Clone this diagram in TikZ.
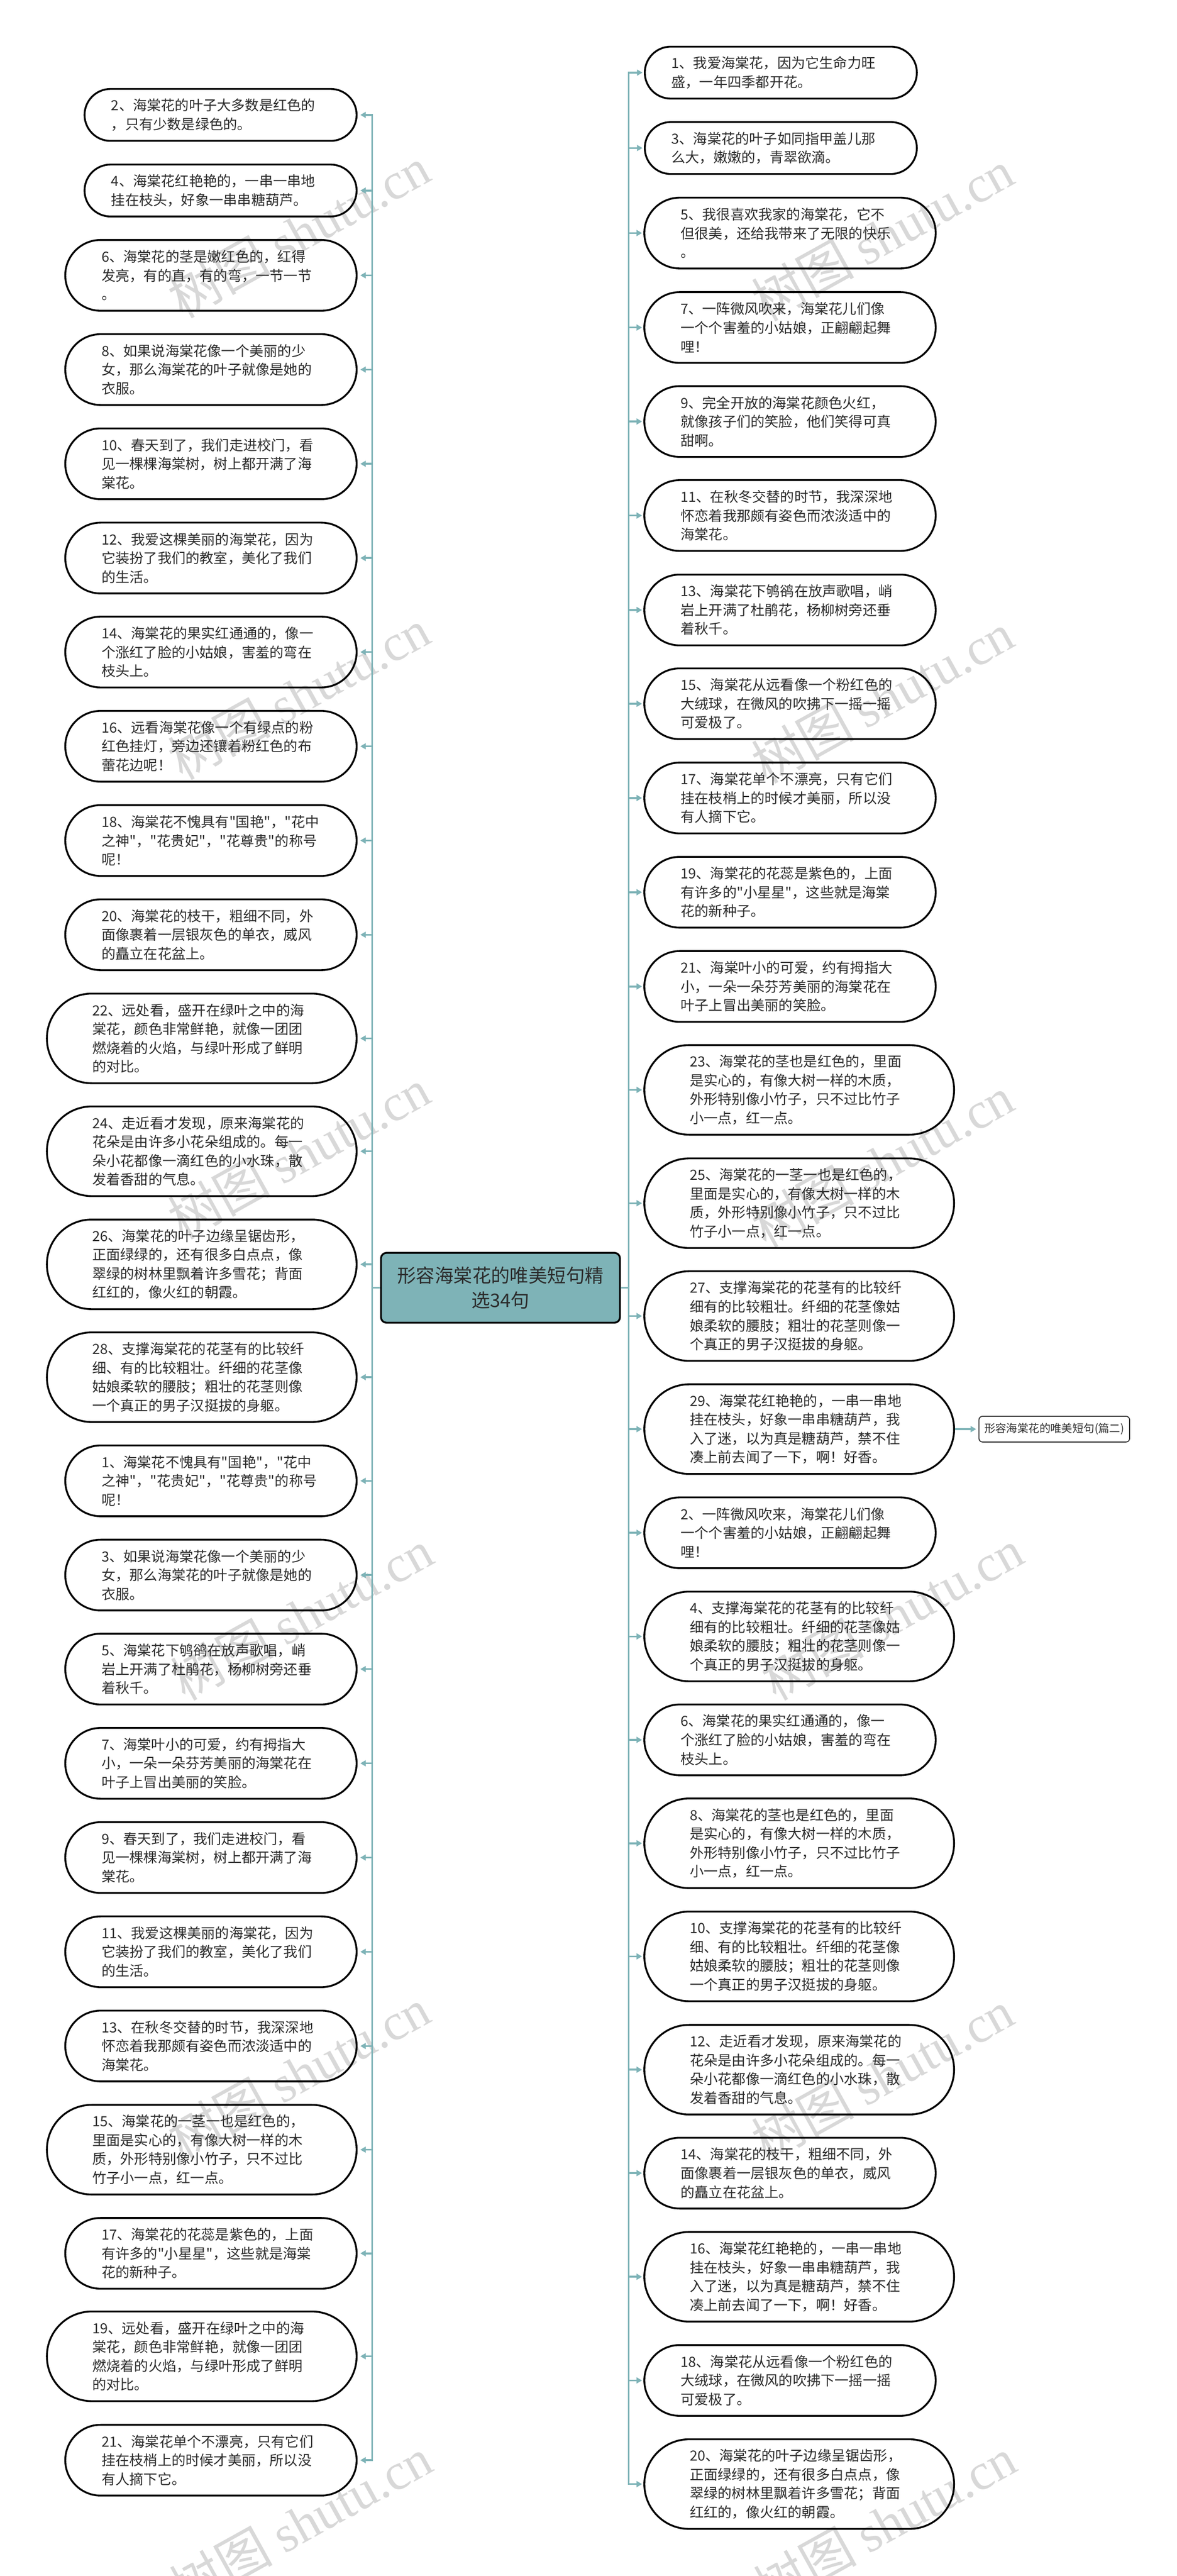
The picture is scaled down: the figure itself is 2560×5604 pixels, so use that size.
\documentclass[tikz,border=0pt]{standalone}
\usepackage{fontspec}
\newfontfamily\cjkfont{Noto Sans CJK SC}
\newfontfamily\markfont{Liberation Serif}
\usetikzlibrary{arrows.meta}
\usetikzlibrary{shapes.misc}
\definecolor{teal1}{HTML}{7EB3B7}
\definecolor{ink1}{HTML}{2B2B2B}
\definecolor{mark1}{HTML}{D8D8D8}

\begin{document}
\begin{tikzpicture}[x=0.5pt, y=-0.5pt,
    pill/.style = {draw=black, line width=2pt, rounded rectangle, inner sep=0pt, text=ink1, text width=238pt, align=left, font=\cjkfont\fontsize{15.25}{20.5}\selectfont},
    pilltwo/.style = {pill, minimum width=296pt, minimum height=56.5pt},
    pillthree/.style = {pill, minimum width=317pt, minimum height=77pt},
    pillfour/.style = {pill, minimum width=337pt, minimum height=97.5pt},
    rootbox/.style = {draw=black, line width=2pt, fill=teal1, rounded corners=6pt, minimum width=260pt, minimum height=76pt, inner sep=0pt, text=ink1, align=center, font=\cjkfont\fontsize{20.4}{26.5}\selectfont},
    tagbox/.style = {draw=ink1, line width=1pt, rounded corners=4pt, minimum width=164pt, minimum height=28pt, inner sep=0pt, text=ink1, font=\cjkfont\fontsize{12}{14}\selectfont},
    link/.style = {draw=teal1, line width=2pt, -{Triangle[length=6pt, width=6.5pt]}},
    markit/.style = {text=mark1, rotate=29, inner sep=0pt, font=\cjkfont\fontsize{56}{56}\selectfont},
    ]
    \useasboundingbox (0,0) rectangle (2560,5604);

    % watermark
    \node[markit] (w1) at (650,505) {树图 {\markfont shutu.cn}};
    \node[markit] (w2) at (650,1510) {树图 {\markfont shutu.cn}};
    \node[markit] (w3) at (650,2510) {树图 {\markfont shutu.cn}};
    \node[markit] (w4) at (656,3513) {树图 {\markfont shutu.cn}};
    \node[markit] (w5) at (650,4510) {树图 {\markfont shutu.cn}};
    \node[markit] (w6) at (654,5488) {树图 {\markfont shutu.cn}};
    \node[markit] (w7) at (1920,512) {树图 {\markfont shutu.cn}};
    \node[markit] (w8) at (1920,1518) {树图 {\markfont shutu.cn}};
    \node[markit] (w9) at (1920,2527) {树图 {\markfont shutu.cn}};
    \node[markit] (w10) at (1941,3512) {树图 {\markfont shutu.cn}};
    \node[markit] (w11) at (1920,4515) {树图 {\markfont shutu.cn}};
    \node[markit] (w12) at (1925,5488) {树图 {\markfont shutu.cn}};

    \node[rootbox] (root) at (1089,2801.5) {形容海棠花的唯美短句精\\选34句};
    \coordinate (ltrunk) at (810,2801.5);
    \coordinate (rtrunk) at (1368,2801.5);

    % left column
    \node[pilltwo] (l2) at (480,250) {2、海棠花的叶子大多数是红色的\\，只有少数是绿色的。};
    \node[pilltwo] (l4) at (480,414.5) {4、海棠花红艳艳的，一串一串地\\挂在枝头，好象一串串糖葫芦。};
    \node[pillthree] (l6) at (459,599) {6、海棠花的茎是嫩红色的，红得\\发亮，有的直，有的弯，一节一节\\。};
    \node[pillthree] (l8) at (459,804) {8、如果说海棠花像一个美丽的少\\女，那么海棠花的叶子就像是她的\\衣服。};
    \node[pillthree] (l10) at (459,1009) {10、春天到了，我们走进校门，看\\见一棵棵海棠树，树上都开满了海\\棠花。};
    \node[pillthree] (l12) at (459,1214) {12、我爱这棵美丽的海棠花，因为\\它装扮了我们的教室，美化了我们\\的生活。};
    \node[pillthree] (l14) at (459,1418.5) {14、海棠花的果实红通通的，像一\\个涨红了脸的小姑娘，害羞的弯在\\枝头上。};
    \node[pillthree] (l16) at (459,1623.5) {16、远看海棠花像一个有绿点的粉\\红色挂灯，旁边还镶着粉红色的布\\蕾花边呢！};
    \node[pillthree] (l18) at (459,1828.5) {18、海棠花不愧具有"国艳"，"花中\\之神"，"花贵妃"，"花尊贵"的称号\\呢！};
    \node[pillthree] (l20) at (459,2033.5) {20、海棠花的枝干，粗细不同，外\\面像裹着一层银灰色的单衣，威风\\的矗立在花盆上。};
    \node[pillfour] (l22) at (439,2259) {22、远处看，盛开在绿叶之中的海\\棠花，颜色非常鲜艳，就像一团团\\燃烧着的火焰，与绿叶形成了鲜明\\的对比。};
    \node[pillfour] (l24) at (439,2504.5) {24、走近看才发现，原来海棠花的\\花朵是由许多小花朵组成的。每一\\朵小花都像一滴红色的小水珠，散\\发着香甜的气息。};
    \node[pillfour] (l26) at (439,2750.5) {26、海棠花的叶子边缘呈锯齿形，\\正面绿绿的，还有很多白点点，像\\翠绿的树林里飘着许多雪花；背面\\红红的，像火红的朝霞。};
    \node[pillfour] (l28) at (439,2996) {28、支撑海棠花的花茎有的比较纤\\细、有的比较粗壮。纤细的花茎像\\姑娘柔软的腰肢；粗壮的花茎则像\\一个真正的男子汉挺拔的身躯。};
    \node[pillthree] (l1) at (459,3221.5) {1、海棠花不愧具有"国艳"，"花中\\之神"，"花贵妃"，"花尊贵"的称号\\呢！};
    \node[pillthree] (l3) at (459,3426.5) {3、如果说海棠花像一个美丽的少\\女，那么海棠花的叶子就像是她的\\衣服。};
    \node[pillthree] (l5) at (459,3631) {5、海棠花下鸲鹆在放声歌唱，峭\\岩上开满了杜鹃花，杨柳树旁还垂\\着秋千。};
    \node[pillthree] (l7) at (459,3836) {7、海棠叶小的可爱，约有拇指大\\小，一朵一朵芬芳美丽的海棠花在\\叶子上冒出美丽的笑脸。};
    \node[pillthree] (l9) at (459,4041) {9、春天到了，我们走进校门，看\\见一棵棵海棠树，树上都开满了海\\棠花。};
    \node[pillthree] (l11) at (459,4246) {11、我爱这棵美丽的海棠花，因为\\它装扮了我们的教室，美化了我们\\的生活。};
    \node[pillthree] (l13) at (459,4451) {13、在秋冬交替的时节，我深深地\\怀恋着我那颇有姿色而浓淡适中的\\海棠花。};
    \node[pillfour] (l15) at (439,4676.5) {15、海棠花的一茎一也是红色的，\\里面是实心的，有像大树一样的木\\质，外形特别像小竹子，只不过比\\竹子小一点，红一点。};
    \node[pillthree] (l17) at (459,4902) {17、海棠花的花蕊是紫色的，上面\\有许多的"小星星"，这些就是海棠\\花的新种子。};
    \node[pillfour] (l19) at (439,5126) {19、远处看，盛开在绿叶之中的海\\棠花，颜色非常鲜艳，就像一团团\\燃烧着的火焰，与绿叶形成了鲜明\\的对比。};
    \node[pillthree] (l21) at (459,5352) {21、海棠花单个不漂亮，只有它们\\挂在枝梢上的时候才美丽，所以没\\有人摘下它。};

    % right column
    \node[pilltwo] (r1) at (1699,158) {1、我爱海棠花，因为它生命力旺\\盛，一年四季都开花。};
    \node[pilltwo] (r3) at (1699,322) {3、海棠花的叶子如同指甲盖儿那\\么大，嫩嫩的，青翠欲滴。};
    \node[pillthree] (r5) at (1719,507) {5、我很喜欢我家的海棠花，它不\\但很美，还给我带来了无限的快乐\\。};
    \node[pillthree] (r7) at (1719,712.5) {7、一阵微风吹来，海棠花儿们像\\一个个害羞的小姑娘，正翩翩起舞\\哩！};
    \node[pillthree] (r9) at (1719,917) {9、完全开放的海棠花颜色火红，\\就像孩子们的笑脸，他们笑得可真\\甜啊。};
    \node[pillthree] (r11) at (1719,1121.5) {11、在秋冬交替的时节，我深深地\\怀恋着我那颇有姿色而浓淡适中的\\海棠花。};
    \node[pillthree] (r13) at (1719,1327) {13、海棠花下鸲鹆在放声歌唱，峭\\岩上开满了杜鹃花，杨柳树旁还垂\\着秋千。};
    \node[pillthree] (r15) at (1719,1531) {15、海棠花从远看像一个粉红色的\\大绒球，在微风的吹拂下一摇一摇\\可爱极了。};
    \node[pillthree] (r17) at (1719,1736) {17、海棠花单个不漂亮，只有它们\\挂在枝梢上的时候才美丽，所以没\\有人摘下它。};
    \node[pillthree] (r19) at (1719,1941) {19、海棠花的花蕊是紫色的，上面\\有许多的"小星星"，这些就是海棠\\花的新种子。};
    \node[pillthree] (r21) at (1719,2146) {21、海棠叶小的可爱，约有拇指大\\小，一朵一朵芬芳美丽的海棠花在\\叶子上冒出美丽的笑脸。};
    \node[pillfour] (r23) at (1739,2371) {23、海棠花的茎也是红色的，里面\\是实心的，有像大树一样的木质，\\外形特别像小竹子，只不过比竹子\\小一点，红一点。};
    \node[pillfour] (r25) at (1739,2617.5) {25、海棠花的一茎一也是红色的，\\里面是实心的，有像大树一样的木\\质，外形特别像小竹子，只不过比\\竹子小一点，红一点。};
    \node[pillfour] (r27) at (1739,2863) {27、支撑海棠花的花茎有的比较纤\\细有的比较粗壮。纤细的花茎像姑\\娘柔软的腰肢；粗壮的花茎则像一\\个真正的男子汉挺拔的身躯。};
    \node[pillfour] (r29) at (1739,3109) {29、海棠花红艳艳的，一串一串地\\挂在枝头，好象一串串糖葫芦，我\\入了迷，以为真是糖葫芦，禁不住\\凑上前去闻了一下，啊！好香。};
    \node[pillthree] (r2) at (1719,3334.5) {2、一阵微风吹来，海棠花儿们像\\一个个害羞的小姑娘，正翩翩起舞\\哩！};
    \node[pillfour] (r4) at (1739,3560) {4、支撑海棠花的花茎有的比较纤\\细有的比较粗壮。纤细的花茎像姑\\娘柔软的腰肢；粗壮的花茎则像一\\个真正的男子汉挺拔的身躯。};
    \node[pillthree] (r6) at (1719,3785) {6、海棠花的果实红通通的，像一\\个涨红了脸的小姑娘，害羞的弯在\\枝头上。};
    \node[pillfour] (r8) at (1739,4010) {8、海棠花的茎也是红色的，里面\\是实心的，有像大树一样的木质，\\外形特别像小竹子，只不过比竹子\\小一点，红一点。};
    \node[pillfour] (r10) at (1739,4256) {10、支撑海棠花的花茎有的比较纤\\细、有的比较粗壮。纤细的花茎像\\姑娘柔软的腰肢；粗壮的花茎则像\\一个真正的男子汉挺拔的身躯。};
    \node[pillfour] (r12) at (1739,4502.5) {12、走近看才发现，原来海棠花的\\花朵是由许多小花朵组成的。每一\\朵小花都像一滴红色的小水珠，散\\发着香甜的气息。};
    \node[pillthree] (r14) at (1719,4727.5) {14、海棠花的枝干，粗细不同，外\\面像裹着一层银灰色的单衣，威风\\的矗立在花盆上。};
    \node[pillfour] (r16) at (1739,4953) {16、海棠花红艳艳的，一串一串地\\挂在枝头，好象一串串糖葫芦，我\\入了迷，以为真是糖葫芦，禁不住\\凑上前去闻了一下，啊！好香。};
    \node[pillthree] (r18) at (1719,5178.5) {18、海棠花从远看像一个粉红色的\\大绒球，在微风的吹拂下一摇一摇\\可爱极了。};
    \node[pillfour] (r20) at (1739,5404) {20、海棠花的叶子边缘呈锯齿形，\\正面绿绿的，还有很多白点点，像\\翠绿的树林里飘着许多雪花；背面\\红红的，像火红的朝霞。};

    \node[tagbox] (tag) at (2294,3109) {形容海棠花的唯美短句(篇二)};

    % connectors
    \draw[link, shorten >=3pt] (root.west) -- (ltrunk) |- (l2.east);
    \draw[link, shorten >=3pt] (root.west) -- (ltrunk) |- (l4.east);
    \draw[link, shorten >=3pt] (root.west) -- (ltrunk) |- (l6.east);
    \draw[link, shorten >=3pt] (root.west) -- (ltrunk) |- (l8.east);
    \draw[link, shorten >=3pt] (root.west) -- (ltrunk) |- (l10.east);
    \draw[link, shorten >=3pt] (root.west) -- (ltrunk) |- (l12.east);
    \draw[link, shorten >=3pt] (root.west) -- (ltrunk) |- (l14.east);
    \draw[link, shorten >=3pt] (root.west) -- (ltrunk) |- (l16.east);
    \draw[link, shorten >=3pt] (root.west) -- (ltrunk) |- (l18.east);
    \draw[link, shorten >=3pt] (root.west) -- (ltrunk) |- (l20.east);
    \draw[link, shorten >=3pt] (root.west) -- (ltrunk) |- (l22.east);
    \draw[link, shorten >=3pt] (root.west) -- (ltrunk) |- (l24.east);
    \draw[link, shorten >=3pt] (root.west) -- (ltrunk) |- (l26.east);
    \draw[link, shorten >=3pt] (root.west) -- (ltrunk) |- (l28.east);
    \draw[link, shorten >=3pt] (root.west) -- (ltrunk) |- (l1.east);
    \draw[link, shorten >=3pt] (root.west) -- (ltrunk) |- (l3.east);
    \draw[link, shorten >=3pt] (root.west) -- (ltrunk) |- (l5.east);
    \draw[link, shorten >=3pt] (root.west) -- (ltrunk) |- (l7.east);
    \draw[link, shorten >=3pt] (root.west) -- (ltrunk) |- (l9.east);
    \draw[link, shorten >=3pt] (root.west) -- (ltrunk) |- (l11.east);
    \draw[link, shorten >=3pt] (root.west) -- (ltrunk) |- (l13.east);
    \draw[link, shorten >=3pt] (root.west) -- (ltrunk) |- (l15.east);
    \draw[link, shorten >=3pt] (root.west) -- (ltrunk) |- (l17.east);
    \draw[link, shorten >=3pt] (root.west) -- (ltrunk) |- (l19.east);
    \draw[link, shorten >=3pt] (root.west) -- (ltrunk) |- (l21.east);

    \draw[link, shorten >=1.5pt] (root.east) -- (rtrunk) |- (r1.west);
    \draw[link, shorten >=1.5pt] (root.east) -- (rtrunk) |- (r3.west);
    \draw[link, shorten >=1.5pt] (root.east) -- (rtrunk) |- (r5.west);
    \draw[link, shorten >=1.5pt] (root.east) -- (rtrunk) |- (r7.west);
    \draw[link, shorten >=1.5pt] (root.east) -- (rtrunk) |- (r9.west);
    \draw[link, shorten >=1.5pt] (root.east) -- (rtrunk) |- (r11.west);
    \draw[link, shorten >=1.5pt] (root.east) -- (rtrunk) |- (r13.west);
    \draw[link, shorten >=1.5pt] (root.east) -- (rtrunk) |- (r15.west);
    \draw[link, shorten >=1.5pt] (root.east) -- (rtrunk) |- (r17.west);
    \draw[link, shorten >=1.5pt] (root.east) -- (rtrunk) |- (r19.west);
    \draw[link, shorten >=1.5pt] (root.east) -- (rtrunk) |- (r21.west);
    \draw[link, shorten >=1.5pt] (root.east) -- (rtrunk) |- (r23.west);
    \draw[link, shorten >=1.5pt] (root.east) -- (rtrunk) |- (r25.west);
    \draw[link, shorten >=1.5pt] (root.east) -- (rtrunk) |- (r27.west);
    \draw[link, shorten >=1.5pt] (root.east) -- (rtrunk) |- (r29.west);
    \draw[link, shorten >=1.5pt] (root.east) -- (rtrunk) |- (r2.west);
    \draw[link, shorten >=1.5pt] (root.east) -- (rtrunk) |- (r4.west);
    \draw[link, shorten >=1.5pt] (root.east) -- (rtrunk) |- (r6.west);
    \draw[link, shorten >=1.5pt] (root.east) -- (rtrunk) |- (r8.west);
    \draw[link, shorten >=1.5pt] (root.east) -- (rtrunk) |- (r10.west);
    \draw[link, shorten >=1.5pt] (root.east) -- (rtrunk) |- (r12.west);
    \draw[link, shorten >=1.5pt] (root.east) -- (rtrunk) |- (r14.west);
    \draw[link, shorten >=1.5pt] (root.east) -- (rtrunk) |- (r16.west);
    \draw[link, shorten >=1.5pt] (root.east) -- (rtrunk) |- (r18.west);
    \draw[link, shorten >=1.5pt] (root.east) -- (rtrunk) |- (r20.west);

    \draw[link, shorten >=2.5pt] (r29.east) -- (tag.west);
\end{tikzpicture}
\end{document}
